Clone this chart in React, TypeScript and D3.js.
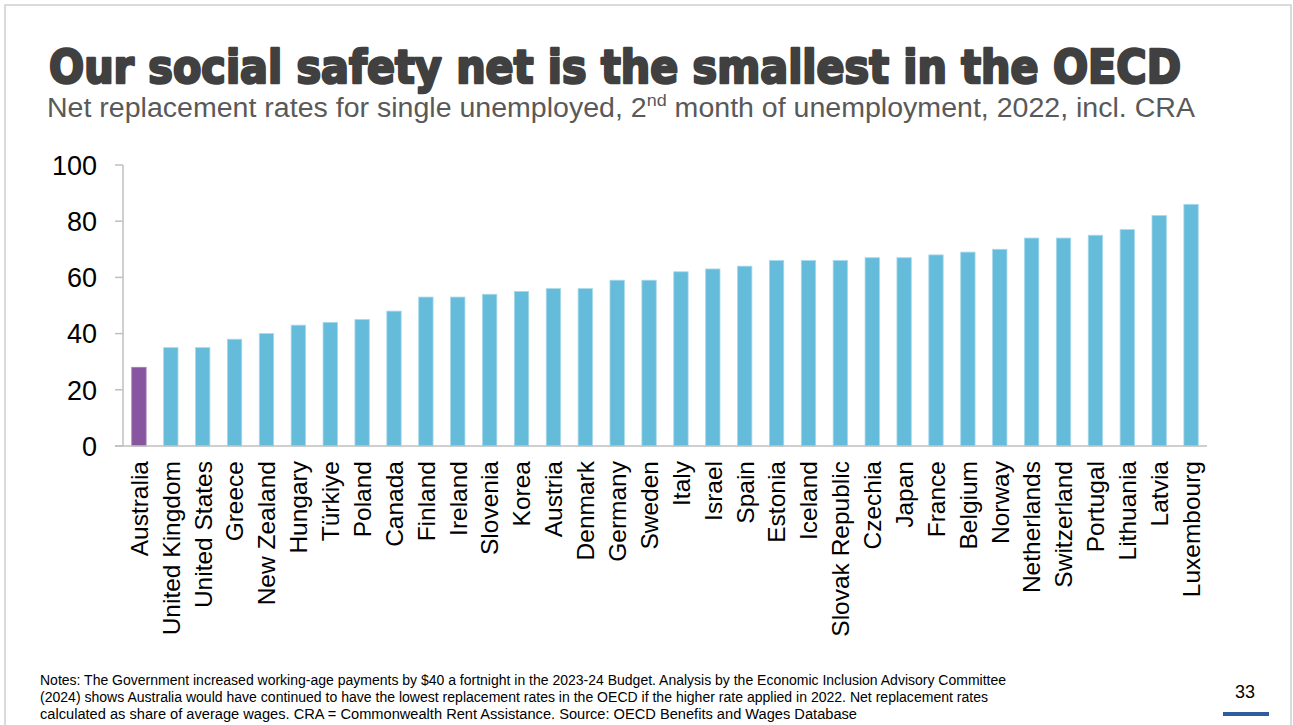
import React from "react";
import * as d3 from "d3";

const countries = [
  "Australia", "United Kingdom", "United States", "Greece", "New Zealand", "Hungary",
  "Türkiye", "Poland", "Canada", "Finland", "Ireland", "Slovenia", "Korea", "Austria",
  "Denmark", "Germany", "Sweden", "Italy", "Israel", "Spain", "Estonia", "Iceland",
  "Slovak Republic", "Czechia", "Japan", "France", "Belgium", "Norway", "Netherlands",
  "Switzerland", "Portugal", "Lithuania", "Latvia", "Luxembourg",
];
const rates = [
  28, 35, 35, 38, 40, 43, 44, 45, 48, 53, 53, 54, 55, 56, 56, 59, 59, 62, 63, 64, 66, 66,
  66, 67, 67, 68, 69, 70, 74, 74, 75, 77, 82, 86,
];
const yTicks = [0, 20, 40, 60, 80, 100];
const highlight = "Australia";

const title = "Our social safety net is the smallest in the OECD";
const notes = [
  "Notes: The Government increased working-age payments by $40 a fortnight in the 2023-24 Budget. Analysis by the Economic Inclusion Advisory Committee",
  "(2024) shows Australia would have continued to have the lowest replacement rates in the OECD if the higher rate applied in 2022. Net replacement rates",
  "calculated as share of average wages. CRA = Commonwealth Rent Assistance. Source: OECD Benefits and Wages Database",
];
const pageNumber = "33";

export default function App() {
  const W = 1293;
  const H = 725;
  const left = 123;
  const right = 1207;
  const top = 165;
  const bottom = 446;

  const x = d3.scaleBand<string>().domain(countries).range([left, right]).paddingInner(0.55).paddingOuter(0.275);
  const y = d3.scaleLinear().domain([0, 100]).range([bottom, top]);
  const axisColor = "#BFBFBF";
  const font = "'Liberation Sans', Arial, sans-serif";

  return (
    <svg width={W} height={H} style={{ position: "absolute", left: 0, top: 0, background: "#fff" }}>
      <rect x={5} y={5} width={1286} height={740} fill="#fff" stroke="#CFCFCF" strokeWidth={1.5} />

      <text
        x={49}
        y={83}
        fontFamily="'DejaVu Sans', sans-serif"
        fontWeight={900}
        fontSize={46}
        fill="#404040"
        stroke="#404040"
        strokeWidth={2.6}
        strokeLinejoin="round"
        textLength={1132}
        lengthAdjust="spacingAndGlyphs"
      >
        {title}
      </text>
      <text
        x={47}
        y={117}
        fontFamily={font}
        fontSize={27}
        fill="#595959"
        textLength={1148}
        lengthAdjust="spacingAndGlyphs"
      >
        Net replacement rates for single unemployed, 2
        <tspan fontSize={17} dy={-11}>nd</tspan>
        <tspan dy={11}> month of unemployment, 2022, incl. CRA</tspan>
      </text>

      {/* y axis */}
      <line x1={left} x2={left} y1={top} y2={bottom} stroke={axisColor} strokeWidth={1.5} />
      {yTicks.map((t) => (
        <g key={t}>
          <line x1={115} x2={left} y1={y(t)} y2={y(t)} stroke={axisColor} strokeWidth={1.5} />
          <text x={97} y={y(t)} dy="0.36em" textAnchor="end" fontFamily={font} fontSize={27} fill="#000">
            {t}
          </text>
        </g>
      ))}

      {/* bars */}
      {countries.map((c, i) => (
        <rect
          key={c}
          x={x(c)}
          y={y(rates[i])}
          width={x.bandwidth()}
          height={y(0) - y(rates[i])}
          fill={c === highlight ? "#8855A0" : "#65BBDA"}
          stroke={c === highlight ? "#A27BB8" : "#A6D8EB"}
          strokeWidth={0.8}
        />
      ))}

      {/* x axis */}
      <line x1={115} x2={right} y1={bottom} y2={bottom} stroke={axisColor} strokeWidth={1.5} />
      {countries.map((c) => {
        const cx = (x(c) as number) + x.bandwidth() / 2;
        return (
          <text
            key={c}
            transform={`translate(${cx},461) rotate(-90)`}
            textAnchor="end"
            dy="0.36em"
            fontFamily={font}
            fontSize={24.5}
            fill="#000"
          >
            {c}
          </text>
        );
      })}

      {/* notes */}
      {notes.map((n, i) => (
        <text
          key={i}
          x={40}
          y={685 + i * 17}
          fontFamily={font}
          fontSize={14}
          fill="#000"
          textLength={[966, 948, 817][i]}
          lengthAdjust="spacingAndGlyphs"
        >
          {n}
        </text>
      ))}

      <text x={1245} y={698} textAnchor="middle" fontFamily={font} fontSize={18} fill="#000">
        {pageNumber}
      </text>
      <rect x={1223} y={712} width={46} height={4} fill="#2E5C9E" />
    </svg>
  );
}
